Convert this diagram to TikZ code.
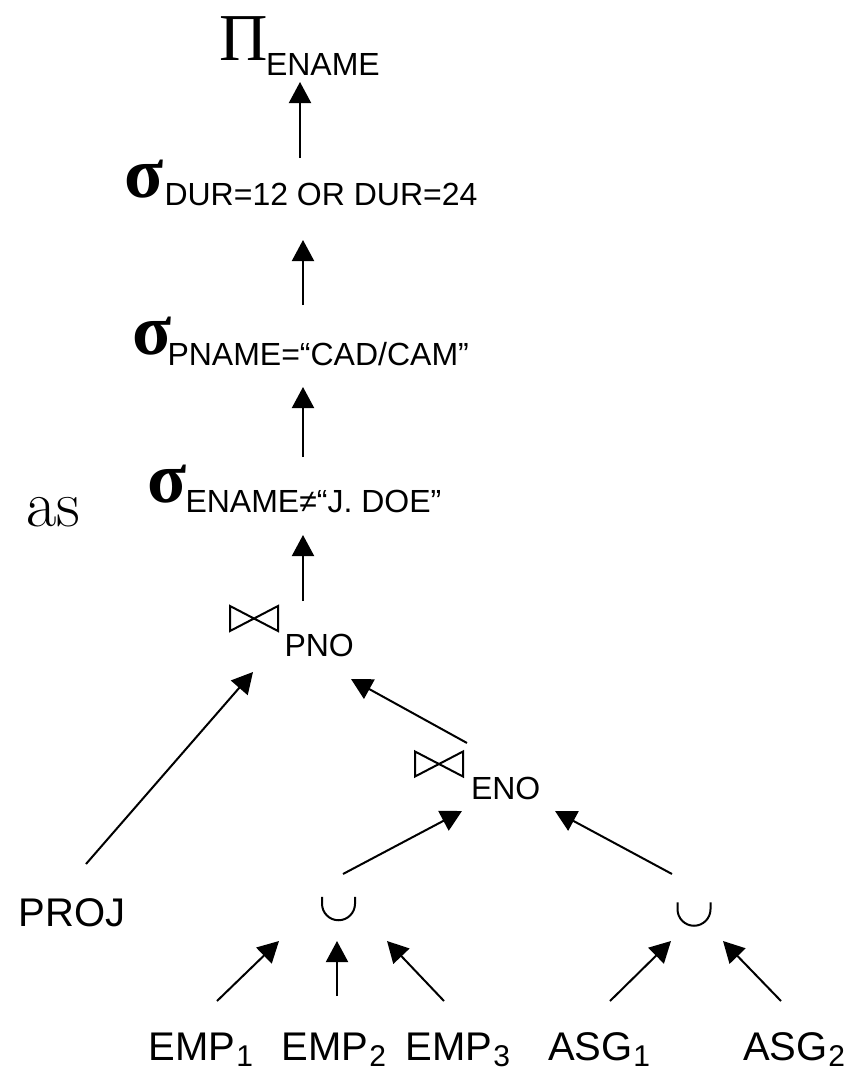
\documentclass[tikz,border=0pt]{standalone}
\usepackage{fontspec}
\usetikzlibrary{arrows.meta}
\newfontfamily\labelfont{Liberation Sans}
\newfontfamily\greekfont{Liberation Serif}
% subscript of an operator, relation names and their fragment indices
\newcommand\opsub[1]{{\fontsize{32}{38}\selectfont\labelfont #1}}
\newcommand\relname[1]{{\fontsize{40}{48}\selectfont\labelfont #1}}
\newcommand\relidx[1]{\raisebox{-6pt}{\fontsize{30}{36}\selectfont\labelfont #1}}
% selection: #1 width of the sigma box, #2 drop of the condition, #3 condition
\newcommand\sigmaop[3]{\makebox[#1][l]{\fontsize{72}{72}\selectfont\greekfont\bfseries σ}\raisebox{-#2}{\opsub{#3}}}
\begin{document}
\begin{tikzpicture}[x=1pt,y=-1pt,
  txt/.style={inner sep=0pt, outer sep=0pt, anchor=base west},
  arr/.style={line width=2pt, -{Triangle[length=21pt,width=22pt]}},
  glyph/.style={line width=2pt, line join=miter},
  bowtiebox/.style={inner sep=0pt, outer sep=0pt, minimum width=48pt, minimum height=25pt},
  unionbox/.style={inner sep=0pt, outer sep=0pt, minimum width=33pt, minimum height=23.5pt}]
\useasboundingbox (0,0) rectangle (857,1073);

% ---- operator labels of the query tree
\node[txt] (project) at (219,60) {\makebox[47pt][l]{\fontsize{67}{67}\selectfont\greekfont Π}\raisebox{-15pt}{\opsub{ENAME}}};
\node[txt] (sel-dur) at (124,197) {\sigmaop{40.5pt}{8pt}{DUR=12 OR DUR=24}};
\node[txt] (sel-pname) at (132,354) {\sigmaop{35.5pt}{11pt}{PNAME=“CAD/CAM”}};
\node[txt] (sel-ename) at (147,502) {\sigmaop{38.5pt}{10pt}{ENAME≠“J. DOE”}};
\node[txt] (as) at (26,526) {\fontsize{66}{66}\selectfont as};

\node[bowtiebox] (join-pno) at (254,618.5) {};
\node[txt] (join-pno-sub) at (284.5,656) {\opsub{PNO}};
\node[bowtiebox] (join-eno) at (439,764) {};
\node[txt] (join-eno-sub) at (471,799) {\opsub{ENO}};
\node[unionbox] (union-emp) at (338.5,908.5) {};
\node[unionbox] (union-asg) at (694,914) {};

% ---- relations and fragments
\node[txt] (proj) at (18.8,926) {\relname{PROJ}};
\node[txt] (emp1) at (148.8,1060) {\relname{EMP}\hspace{1pt}\relidx{1}};
\node[txt] (emp2) at (281.8,1060) {\relname{EMP}\hspace{1pt}\relidx{2}};
\node[txt] (emp3) at (405.8,1060) {\relname{EMP}\hspace{1pt}\relidx{3}};
\node[txt] (asg1) at (548,1060) {\relname{ASG}\hspace{1pt}\relidx{1}};
\node[txt] (asg2) at (743,1060) {\relname{ASG}\hspace{1pt}\relidx{2}};

% ---- join and union symbols
\foreach \j in {join-pno,join-eno}
  \draw[glyph] (\j.north west) -- (\j.south east) -- (\j.north east) -- (\j.south west) -- cycle;
\foreach \u in {union-emp,union-asg}
  \draw[glyph] (\u.north west) -- ++(0,7)
     .. controls +(0,9.1) and +(-9.1,0) .. ++(16.5,16.5)
     .. controls +(9.1,0) and +(0,9.1) .. ++(16.5,-16.5)
     -- (\u.north east);

% ---- ports where the edges leave and enter
\coordinate (project-in) at (300,82);
\coordinate (sel-dur-out) at (300,158);
\coordinate (sel-dur-in) at (303,240);
\coordinate (sel-pname-out) at (303,305);
\coordinate (sel-pname-in) at (303,387);
\coordinate (sel-ename-out) at (303,457);
\coordinate (sel-ename-in) at (303,535);
\coordinate (join-pno-out) at (303,601);
\coordinate (join-pno-in-l) at (253,672);
\coordinate (proj-out) at (86,864);
\coordinate (join-pno-in-r) at (351,679);
\coordinate (join-eno-out) at (467,743);
\coordinate (join-eno-in-l) at (462,811);
\coordinate (union-emp-out) at (343,874);
\coordinate (join-eno-in-r) at (555,811);
\coordinate (union-asg-out) at (672,874);
\coordinate (union-emp-in1) at (279,941);
\coordinate (emp1-out) at (217,1001);
\coordinate (union-emp-in2) at (337,941);
\coordinate (emp2-out) at (337,996);
\coordinate (union-emp-in3) at (387,941);
\coordinate (emp3-out) at (444,1001);
\coordinate (union-asg-in1) at (671,941);
\coordinate (asg1-out) at (610,1001);
\coordinate (union-asg-in2) at (723,941);
\coordinate (asg2-out) at (781,1001);

% ---- edges of the tree
\draw[arr] (sel-dur-out) -- (project-in);
\draw[arr] (sel-pname-out) -- (sel-dur-in);
\draw[arr] (sel-ename-out) -- (sel-pname-in);
\draw[arr] (join-pno-out) -- (sel-ename-in);
\draw[arr] (proj-out) -- (join-pno-in-l);
\draw[arr] (join-eno-out) -- (join-pno-in-r);
\draw[arr] (union-emp-out) -- (join-eno-in-l);
\draw[arr] (union-asg-out) -- (join-eno-in-r);
\draw[arr] (emp1-out) -- (union-emp-in1);
\draw[arr] (emp2-out) -- (union-emp-in2);
\draw[arr] (emp3-out) -- (union-emp-in3);
\draw[arr] (asg1-out) -- (union-asg-in1);
\draw[arr] (asg2-out) -- (union-asg-in2);
\end{tikzpicture}
\end{document}
